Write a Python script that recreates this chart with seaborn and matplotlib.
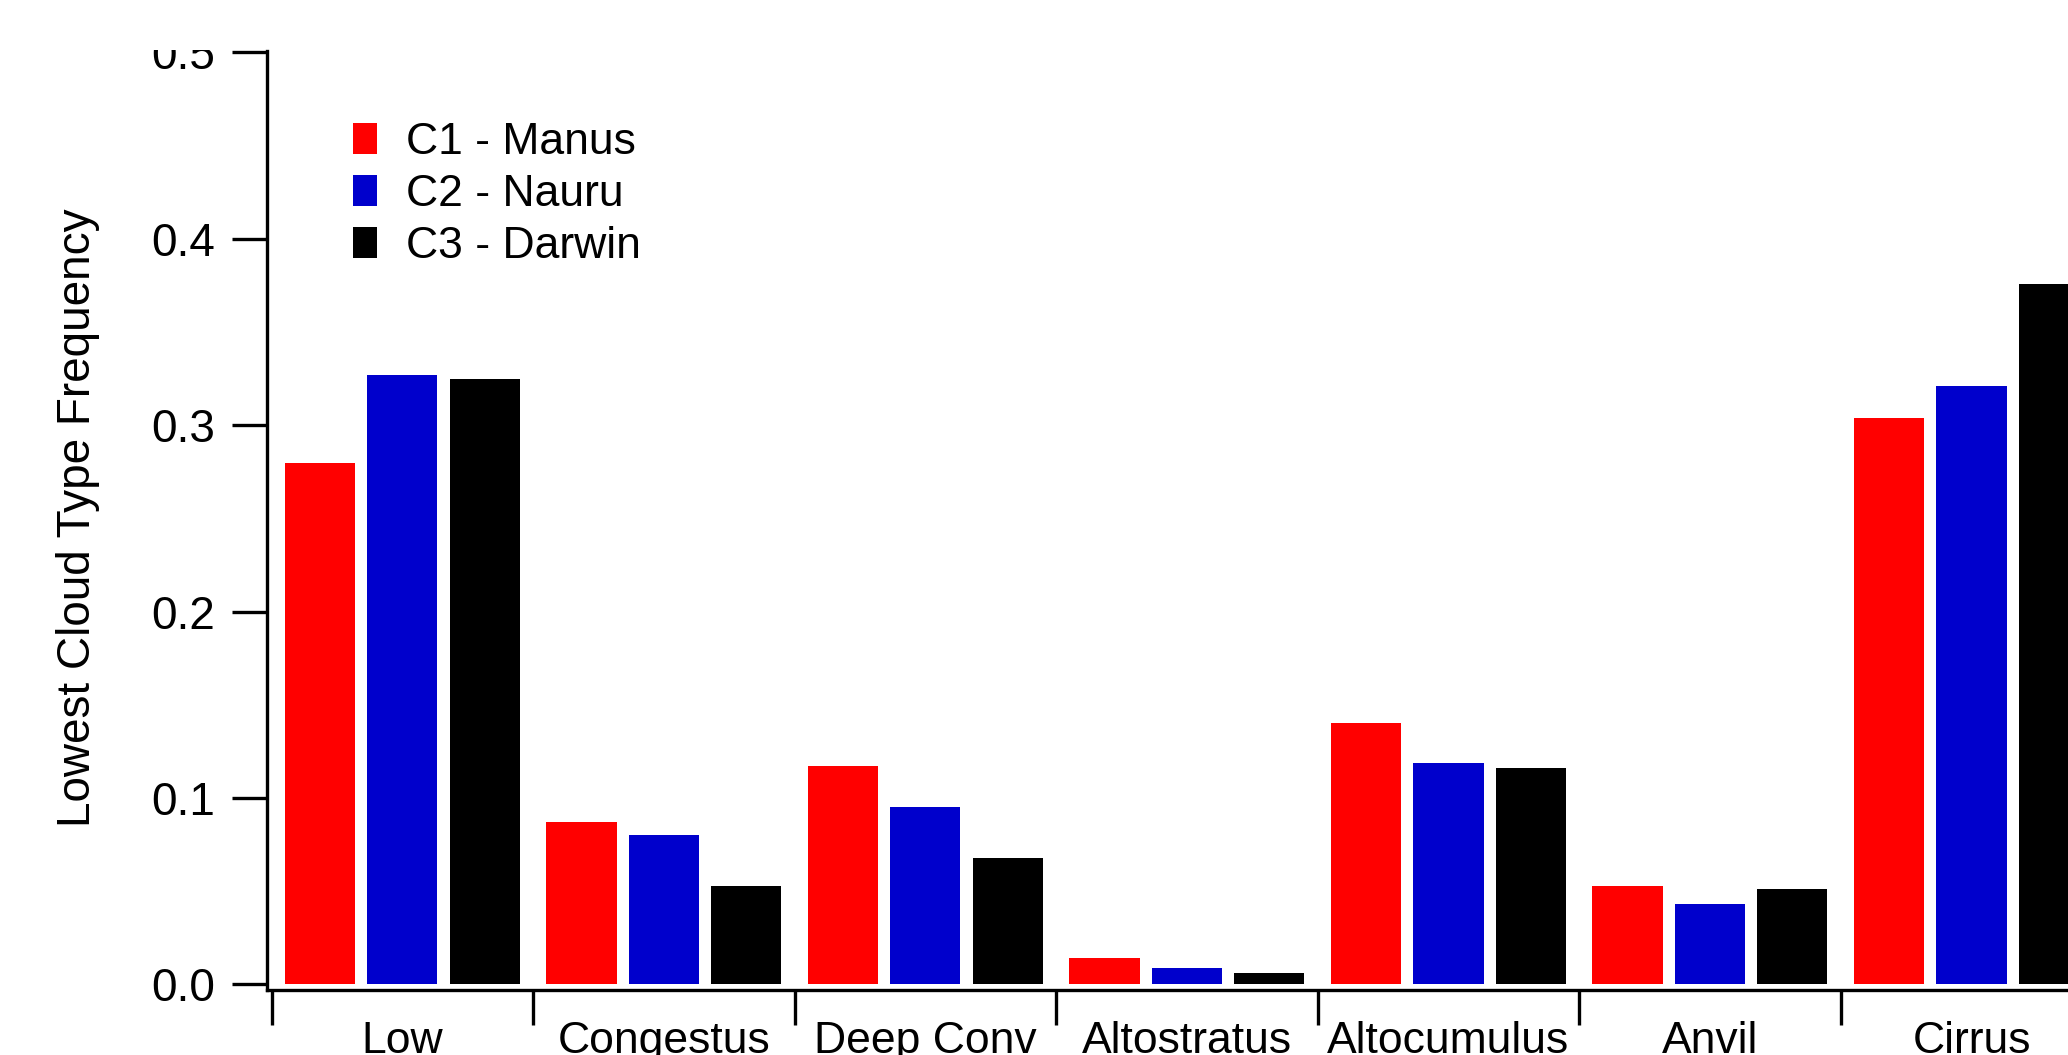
import numpy as np
import pandas as pd
import matplotlib
matplotlib.use("Agg")
import matplotlib.pyplot as plt
from matplotlib.ticker import FixedLocator
from matplotlib.transforms import Bbox, TransformedBbox
import seaborn as sns

# Frequency of the lowest detected cloud type at each site
cloud_types = ["Low", "Congestus", "Deep Conv", "Altostratus",
               "Altocumulus", "Anvil", "Cirrus"]
sites = ["C1 - Manus", "C2 - Nauru", "C3 - Darwin"]
manus = [0.280, 0.087, 0.117, 0.014, 0.140, 0.053, 0.304]
nauru = [0.327, 0.080, 0.095, 0.009, 0.119, 0.043, 0.321]
darwin = [0.325, 0.053, 0.068, 0.006, 0.116, 0.051, 0.376]
site_colors = ["#FF0000", "#0000CC", "#000000"]
y_ticks = [0.0, 0.1, 0.2, 0.3, 0.4, 0.5]

df = pd.DataFrame({
    "cloud": cloud_types * len(sites),
    "site": np.repeat(sites, len(cloud_types)),
    "freq": manus + nauru + darwin,
})

sns.set_style("ticks")
plt.rcParams["font.family"] = ["Liberation Sans", "DejaVu Sans"]
plt.rcParams.update({
    "text.color": "black",
    "axes.labelcolor": "black",
    "xtick.color": "black",
    "ytick.color": "black",
    "xtick.labelcolor": "black",
    "ytick.labelcolor": "black",
})

W, H = 2068, 1055
fig = plt.figure(figsize=(W / 100, H / 100), dpi=100)
ax = fig.add_axes([266.7 / W, 65 / H, 1 - 266.7 / W, (990 - 51) / H])

sns.barplot(data=df, x="cloud", y="freq", hue="site",
            order=cloud_types, hue_order=sites, palette=site_colors,
            saturation=1, width=0.946, gap=0.15, linewidth=0,
            errorbar=None, ax=ax)

ax.set_xlim(-0.519, 6.369)
ax.set_ylim(-0.003, 0.5008)
sns.despine(ax=ax)
for side in ("left", "bottom"):
    ax.spines[side].set_linewidth(2.4)
    ax.spines[side].set_color("black")

# y axis
ax.set_yticks(y_ticks)
ax.set_yticklabels([f"{v:.1f}" for v in y_ticks])
ax.tick_params(axis="y", which="major", length=25, width=2.4, pad=12,
               labelsize=33, direction="out", color="black",
               labelcolor="black")

# x axis: labels at category centres, tick marks at category boundaries
ax.tick_params(axis="x", which="major", length=0, pad=22, labelsize=32,
               labelcolor="black")
ax.xaxis.set_minor_locator(
    FixedLocator(np.arange(-0.5, len(cloud_types), 1.0)))
ax.tick_params(axis="x", which="minor", length=25, width=2.4,
               direction="out", color="black")
ax.set_xlabel("")

ax.set_ylabel("Lowest Cloud Type Frequency", fontsize=33, color="black")
ax.yaxis.set_label_coords(-0.0925, 0.503)

handles, labels = ax.get_legend_handles_labels()
leg = ax.legend(handles, labels, loc="upper left",
                bbox_to_anchor=(353 / W, 1 - 122 / H),
                bbox_transform=fig.transFigure, frameon=False, fontsize=32,
                handlelength=0.54, handleheight=0.68, handletextpad=0.65,
                labelspacing=0.25, borderpad=0, borderaxespad=0)
for t in leg.get_texts():
    t.set_color("black")

# tick labels are cut off at the top edge of the plotting area
clip = TransformedBbox(Bbox([[0, 0], [1, 1 - 50 / H]]), fig.transFigure)
for lab in ax.get_yticklabels():
    lab.set_clip_box(clip)
    lab.set_clip_on(True)

fig.savefig("out.png", dpi=100)
